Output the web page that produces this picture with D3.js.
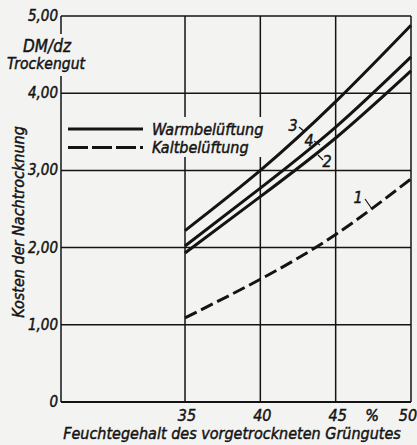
<!DOCTYPE html>
<html>
<head>
<meta charset="utf-8">
<script src="https://cdn.jsdelivr.net/npm/d3@7"></script>
<style>
  body { margin: 0; background: #f3f3f1; }
  svg { display: block; }
  text { font-family: "Liberation Sans Narrow", "DejaVu Sans Condensed", sans-serif; font-style: italic;
         fill: #141414; stroke: #141414; stroke-width: 0.45px; }
</style>
</head>
<body>
<script>
// data
const moisture = [35, 40, 45, 50];            // % Feuchtegehalt
const curve1 = [1.09, 1.59, 2.17, 2.89];      // Kaltbelüftung
const curve2 = [1.93, 2.66, 3.42, 4.29];
const curve4 = [2.02, 2.77, 3.56, 4.47];
const curve3 = [2.22, 3.00, 3.89, 4.88];
const yTicks = [0, 1, 2, 3, 4, 5];
const yTickLabels = ["0", "1,00", "2,00", "3,00", "4,00", "5,00"];
const xTicks = [35, 40, 45, 50];

const W = 417, H = 445;
const plot = {left: 61, right: 411, top: 16, bottom: 402};
const ink = "#141414";

const svg = d3.select("body").append("svg")
    .attr("width", W)
    .attr("height", H);

let x = d3.scaleLinear().domain([35, 50]).range([185, plot.right]);
let y = d3.scaleLinear().domain([0, 5]).range([plot.bottom, plot.top]);

// grid
svg.append("g")
    .selectAll("line")
    .data(yTicks.slice(1))
    .enter().append("line")
        .attr("x1", plot.left).attr("x2", plot.right)
        .attr("y1", d => y(d)).attr("y2", d => y(d))
        .attr("stroke", ink).attr("stroke-width", 1.5);

svg.append("g")
    .selectAll("line")
    .data(xTicks.slice(0, 3))
    .enter().append("line")
        .attr("x1", d => x(d)).attr("x2", d => x(d))
        .attr("y1", plot.top).attr("y2", plot.bottom)
        .attr("stroke", ink).attr("stroke-width", 1.5);

// frame: bottom, right, left (left broken for unit label)
svg.append("line").attr("x1", plot.left).attr("x2", plot.right).attr("y1", plot.bottom).attr("y2", plot.bottom)
    .attr("stroke", ink).attr("stroke-width", 2);
svg.append("line").attr("x1", plot.right).attr("x2", plot.right).attr("y1", plot.top).attr("y2", plot.bottom)
    .attr("stroke", ink).attr("stroke-width", 1.5);
svg.append("line").attr("x1", plot.left).attr("x2", plot.left).attr("y1", plot.top).attr("y2", 34)
    .attr("stroke", ink).attr("stroke-width", 1.5);
svg.append("line").attr("x1", plot.left).attr("x2", plot.left).attr("y1", 76).attr("y2", plot.bottom)
    .attr("stroke", ink).attr("stroke-width", 1.5);

// y tick labels
svg.append("g")
    .selectAll("text")
    .data(yTicks)
    .enter().append("text")
        .attr("x", 58)
        .attr("y", d => y(d) + 5)
        .attr("text-anchor", "end")
        .style("font-size", "15px")
        .text((d, i) => yTickLabels[i]);

// x tick labels
svg.append("g")
    .selectAll("text")
    .data(xTicks)
    .enter().append("text")
        .attr("x", d => x(d) + (d === 50 ? -3 : 2))
        .attr("y", 421)
        .attr("text-anchor", "middle")
        .style("font-size", "16px")
        .text(d => d);
svg.append("text").attr("x", 372).attr("y", 421).attr("text-anchor", "middle")
    .style("font-size", "16px").text("%");

// axis titles
svg.append("text").attr("x", 232).attr("y", 439).attr("text-anchor", "middle")
    .style("font-size", "16px").text("Feuchtegehalt des vorgetrockneten Grüngutes");
svg.append("text")
    .attr("transform", "translate(24,222) rotate(-90)")
    .attr("text-anchor", "middle")
    .style("font-size", "16px")
    .text("Kosten der Nachtrocknung");
svg.append("text").attr("x", 47).attr("y", 52).attr("text-anchor", "middle")
    .style("font-size", "17px").text("DM/dz");
svg.append("text").attr("x", 46).attr("y", 69).attr("text-anchor", "middle")
    .style("font-size", "15.5px").text("Trockengut");

// legend
svg.append("rect").attr("x", 63).attr("y", 117).attr("width", 203).attr("height", 40)
    .attr("fill", "#f3f3f1");
svg.append("line").attr("x1", 68).attr("x2", 143).attr("y1", 129).attr("y2", 129)
    .attr("stroke", ink).attr("stroke-width", 3);
svg.append("line").attr("x1", 68).attr("x2", 143).attr("y1", 147.5).attr("y2", 147.5)
    .attr("stroke", ink).attr("stroke-width", 3).attr("stroke-dasharray", "20 4");
svg.append("text").attr("x", 152).attr("y", 135).style("font-size", "16px").text("Warmbelüftung");
svg.append("text").attr("x", 152).attr("y", 153).style("font-size", "16px").text("Kaltbelüftung");

// curves
const line = d3.line()
    .x((d, i) => x(moisture[i]))
    .y(d => y(d))
    .curve(d3.curveNatural);

const series = [
    {values: curve3, dash: null},
    {values: curve4, dash: null},
    {values: curve2, dash: null},
    {values: curve1, dash: "13 5"}
];

svg.append("g")
    .selectAll("path")
    .data(series)
    .enter().append("path")
        .attr("d", d => line(d.values))
        .attr("fill", "none")
        .attr("stroke", ink)
        .attr("stroke-width", 3)
        .attr("stroke-dasharray", d => d.dash);

// curve labels with leader ticks
const labels = [
    {t: "3", x: 293, y: 131, lx1: 299, ly1: 127, lx2: 305, ly2: 132},
    {t: "4", x: 309, y: 146, lx1: 314, ly1: 141, lx2: 320, ly2: 145},
    {t: "2", x: 327, y: 167, lx1: 318, ly1: 155, lx2: 323, ly2: 160},
    {t: "1", x: 358, y: 203, lx1: 365, ly1: 199, lx2: 372, ly2: 209}
];
labels.forEach(d => {
    svg.append("text").attr("x", d.x).attr("y", d.y).attr("text-anchor", "middle")
        .style("font-size", "16px").text(d.t);
    svg.append("line").attr("x1", d.lx1).attr("y1", d.ly1).attr("x2", d.lx2).attr("y2", d.ly2)
        .attr("stroke", ink).attr("stroke-width", 1.2);
});
</script>
</body>
</html>
